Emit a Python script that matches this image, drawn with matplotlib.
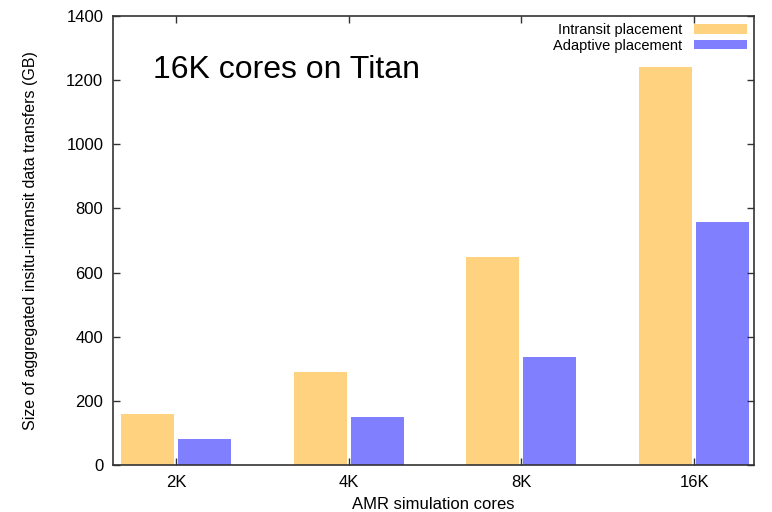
import numpy as np
import matplotlib
matplotlib.use("Agg")
import matplotlib.pyplot as plt

plt.rcParams['font.family'] = ['Liberation Sans', 'DejaVu Sans']

categories = ["2K", "4K", "8K", "16K"]
intransit = [159, 289, 648, 1240]
adaptive = [80, 150, 338, 757]

fig = plt.figure(figsize=(7.72, 5.12), dpi=100)
ax = fig.add_axes([0.1464, 0.0918, 0.8303, 0.877])

x = np.arange(len(categories))
w = 0.306
ax.bar(x - 0.165, intransit, w, color='#ffd27f', label='Intransit placement')
ax.bar(x + 0.165, adaptive, w, color='#8080ff', label='Adaptive placement')

ax.set_xlim(-0.364, 3.347)
ax.set_ylim(0, 1400)
ax.set_xticks(x)
ax.set_xticklabels(categories)
ax.set_yticks(np.arange(0, 1401, 200))
ax.tick_params(direction='in', top=True, right=True, labelsize=12, length=5,
               width=1, color='#333333', pad=7)
for s in ax.spines.values():
    s.set_linewidth(1.2)
    s.set_color('#333333')

ax.set_xlabel("AMR simulation cores", fontsize=12)
ax.xaxis.set_label_coords(0.5, -0.072)
ax.set_ylabel("Size of aggregated insitu-intransit data transfers (GB)", fontsize=11.5)
ax.yaxis.set_label_coords(-0.117, 0.5)

ax.text(0.062, 0.88, "16K cores on Titan", transform=ax.transAxes, fontsize=23,
        va='center', ha='left')

leg = ax.legend(loc='upper right', frameon=False, fontsize=10.5, markerfirst=False,
                handlelength=3.6, handleheight=0.6, borderaxespad=0.1,
                labelspacing=0.1, handletextpad=0.8)

fig.savefig("out.png", dpi=100)
